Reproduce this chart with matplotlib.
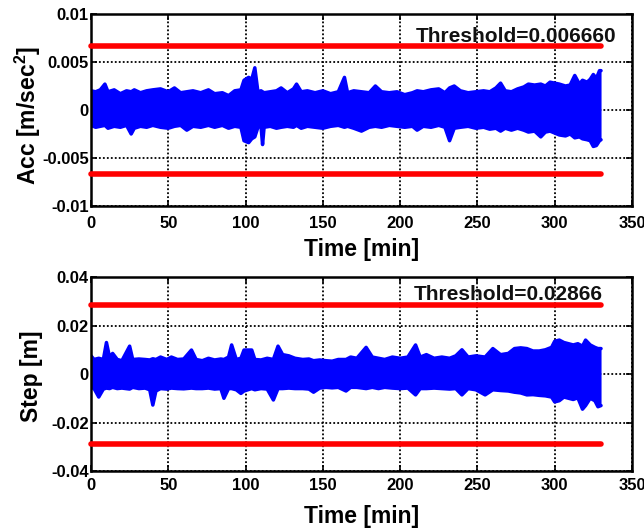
import matplotlib
matplotlib.use("Agg")
import matplotlib.pyplot as plt
import numpy as np
from matplotlib.ticker import FuncFormatter

plt.rcParams['font.family'] = ['Liberation Sans', 'DejaVu Sans']
plt.rcParams['font.weight'] = 'bold'
plt.rcParams['mathtext.fontset'] = 'custom'
plt.rcParams['mathtext.bf'] = 'Liberation Sans:bold'
plt.rcParams['mathtext.rm'] = 'Liberation Sans:bold'

# acceleration band (upper / lower envelope), units of 1e-3 m/sec^2
acc_t = [0, 3, 6, 9, 11, 15, 19, 23, 26, 28, 32, 36, 40, 45, 50, 54, 58, 62, 66, 71,
         76, 80, 85, 89, 93, 97, 99, 102, 104, 106, 108, 110, 111, 112, 116, 120, 123, 127, 131, 133,
         136, 140, 145, 150, 155, 160, 164, 166, 170, 175, 180, 184, 188, 193, 198, 203, 208, 211, 215, 220,
         225, 229, 232, 235, 239, 244, 249, 254, 258, 262, 265, 268, 272, 276, 280, 283, 287, 291, 294, 297,
         300, 303, 307, 310, 313, 316, 318, 321, 323, 325, 327, 329, 330]
acc_up = [2.0, 1.9, 2.1, 2.7, 1.9, 2.1, 1.7, 2.0, 1.9, 2.1, 1.8, 2.0, 2.1, 2.2, 1.9, 2.3, 1.8, 1.9, 2.0, 1.8,
          2.1, 1.7, 1.8, 1.5, 2.0, 2.1, 3.1, 3.4, 3.2, 4.4, 1.9, 2.0, 1.9, 1.8, 1.9, 2.0, 2.3, 1.8, 2.2, 2.7,
          1.9, 2.0, 1.8, 2.0, 1.7, 1.9, 3.4, 1.8, 2.0, 1.9, 1.8, 2.5, 1.9, 1.8, 1.9, 1.6, 1.8, 2.0, 1.9, 2.1,
          2.2, 1.8, 2.3, 2.5, 2.0, 1.8, 1.9, 2.0, 1.9, 2.3, 2.8, 2.0, 1.9, 2.2, 2.4, 2.7, 2.6, 2.7, 2.5, 2.9,
          2.8, 2.7, 2.5, 2.6, 3.6, 2.7, 3.1, 2.9, 3.2, 3.7, 3.3, 4.1, 4.1]
acc_lo = [-1.6, -1.8, -1.7, -1.6, -1.9, -1.7, -1.8, -1.6, -2.5, -1.9, -1.7, -1.8, -1.6, -1.8, -1.9, -1.7, -1.6, -2.1, -1.7, -1.8,
          -1.6, -1.8, -1.6, -1.9, -1.7, -1.8, -3.2, -3.4, -3.0, -2.8, -1.8, -1.7, -3.6, -1.8, -1.7, -1.9, -1.8, -1.7, -1.8, -1.6,
          -1.9, -1.7, -1.8, -1.9, -1.7, -1.6, -1.8, -1.7, -1.9, -2.2, -1.8, -1.7, -1.8, -1.6, -1.7, -1.8, -1.7, -2.1, -1.7, -1.8,
          -1.6, -1.8, -3.2, -1.9, -1.8, -1.7, -1.9, -1.8, -2.0, -1.9, -2.2, -1.9, -2.1, -1.9, -2.1, -2.3, -2.2, -2.8, -2.3, -2.2,
          -2.4, -2.6, -2.7, -2.5, -2.9, -2.8, -3.0, -3.1, -3.2, -3.8, -3.7, -3.2, -3.1]

# step band (upper / lower envelope), units of 1e-3 m
step_t = [0, 2, 5, 8, 10, 12, 14, 17, 20, 25, 27, 31, 35, 38, 40, 42, 45, 49, 52, 56,
          60, 65, 68, 72, 76, 80, 84, 86, 89, 91, 94, 97, 99, 104, 106, 110, 114, 118, 121, 124,
          128, 132, 137, 141, 144, 148, 152, 156, 160, 165, 168, 172, 178, 182, 186, 190, 195, 200, 205, 210,
          213, 217, 222, 227, 232, 236, 240, 244, 249, 255, 260, 265, 270, 274, 278, 282, 286, 290, 294, 298,
          300, 303, 306, 309, 312, 315, 318, 320, 323, 326, 328, 330]
step_up = [7.5, 6.0, 6.5, 6.0, 13.0, 7.0, 8.5, 6.0, 5.5, 11.5, 6.0, 6.2, 6.0, 5.8, 6.3, 6.0, 7.0, 6.0, 7.0, 6.0,
           6.2, 9.9, 6.0, 5.5, 6.5, 5.8, 6.2, 6.0, 7.0, 12.0, 6.0, 6.5, 9.9, 9.9, 6.0, 5.8, 6.5, 6.0, 11.5, 8.0,
           7.5, 6.5, 6.0, 6.2, 5.5, 5.8, 5.5, 5.3, 6.0, 6.0, 7.0, 6.5, 11.0, 7.0, 6.5, 6.0, 7.0, 6.5, 7.0, 12.0,
           7.0, 8.0, 6.5, 7.0, 6.5, 7.5, 10.0, 7.0, 7.5, 7.0, 10.5, 8.0, 8.5, 10.5, 10.8, 10.5, 9.5, 9.5, 10.0, 11.0,
           13.5, 14.0, 13.0, 12.5, 12.0, 12.5, 11.5, 14.0, 12.0, 11.0, 10.5, 10.5]
step_lo = [-5.5, -6.0, -9.5, -6.2, -5.8, -6.0, -5.5, -6.0, -5.8, -6.2, -5.5, -6.0, -5.8, -6.5, -12.8, -7.0, -6.0, -6.2, -5.8, -6.0,
           -6.1, -5.8, -6.0, -6.0, -5.8, -6.2, -6.0, -10.0, -6.0, -6.0, -6.5, -8.0, -7.0, -6.0, -6.5, -6.0, -6.2, -10.7, -6.0, -6.0,
           -5.8, -6.0, -6.0, -6.2, -7.5, -5.8, -5.5, -5.7, -5.5, -7.0, -5.5, -5.5, -6.0, -5.5, -6.0, -5.5, -5.8, -6.0, -5.8, -8.6,
           -6.0, -6.0, -5.8, -6.0, -6.2, -6.0, -8.6, -6.0, -6.5, -8.6, -6.5, -6.8, -7.0, -7.5, -7.8, -8.6, -8.5, -8.8, -9.0, -9.5,
           -11.5, -11.0, -9.5, -10.0, -10.5, -9.8, -14.5, -13.0, -10.0, -11.0, -13.5, -13.0]

acc_threshold = 0.006660
step_threshold = 0.02866
thr_t_end = 330

acc_ticks = [-0.01, -0.005, 0, 0.005, 0.01]
step_ticks = [-0.04, -0.02, 0, 0.02, 0.04]
time_ticks = [0, 50, 100, 150, 200, 250, 300, 350]

fmt = FuncFormatter(lambda v, p: '%g' % v)


def draw_panel(ax, t, up, lo, thr, ticks, ylabel, label_text, text_xy, xpad, ylab_xy, xlabpad):
    t = np.array(t)
    up = np.array(up) * 1e-3
    lo = np.array(lo) * 1e-3
    ax.fill_between(t, lo, up, color='blue', lw=0, zorder=2)
    ax.plot(t, up, color='blue', lw=2.5, solid_joinstyle='round', solid_capstyle='round', zorder=2)
    ax.plot(t, lo, color='blue', lw=2.5, solid_joinstyle='round', solid_capstyle='round', zorder=2)
    for s in (1, -1):
        ax.plot([0, thr_t_end], [s * thr, s * thr], color='red', lw=4,
                solid_capstyle='round', zorder=3, clip_on=False)
    ax.set_xlim(0, 350)
    ax.set_ylim(ticks[0], ticks[-1])
    ax.set_xticks(time_ticks)
    ax.set_yticks(ticks)
    ax.xaxis.set_major_formatter(fmt)
    ax.yaxis.set_major_formatter(fmt)
    ax.grid(True, color='black', linestyle=(0, (1, 1.2)), linewidth=1.3)
    ax.set_axisbelow(True)
    ax.tick_params(direction='in', length=4, width=1.2, labelsize=12, top=True, right=True)
    ax.tick_params(axis='x', pad=xpad)
    ax.tick_params(axis='y', pad=1.5)
    for sp in ax.spines.values():
        sp.set_linewidth(1.8)
    ax.set_xlabel('Time [min]', fontsize=16.5, fontweight='bold', labelpad=xlabpad)
    ax.set_ylabel(ylabel, fontsize=16.5, fontweight='bold')
    ax.yaxis.set_label_coords(*ylab_xy)
    ax.text(text_xy[0], text_xy[1], label_text, transform=ax.transAxes, ha='right', va='center',
            fontsize=15, fontweight='bold', color='#111111', zorder=4)


fig = plt.figure(figsize=(6.44, 5.29), dpi=100)
ax1 = fig.add_axes([0.1413, 0.6106, 0.8400, 0.3629])
ax2 = fig.add_axes([0.1413, 0.1096, 0.8400, 0.3667])

draw_panel(ax1, acc_t, acc_up, acc_lo, acc_threshold, acc_ticks,
           r'Acc [m/sec$^{\mathbf{2}}$]', 'Threshold=0.006660', (0.972, 0.885), 7,
           (-0.088, 0.47), 5)
draw_panel(ax2, step_t, step_up, step_lo, step_threshold, step_ticks,
           'Step [m]', 'Threshold=0.02866', (0.946, 0.91), 5,
           (-0.088, 0.49), 9)

fig.savefig('out.png', dpi=100)
